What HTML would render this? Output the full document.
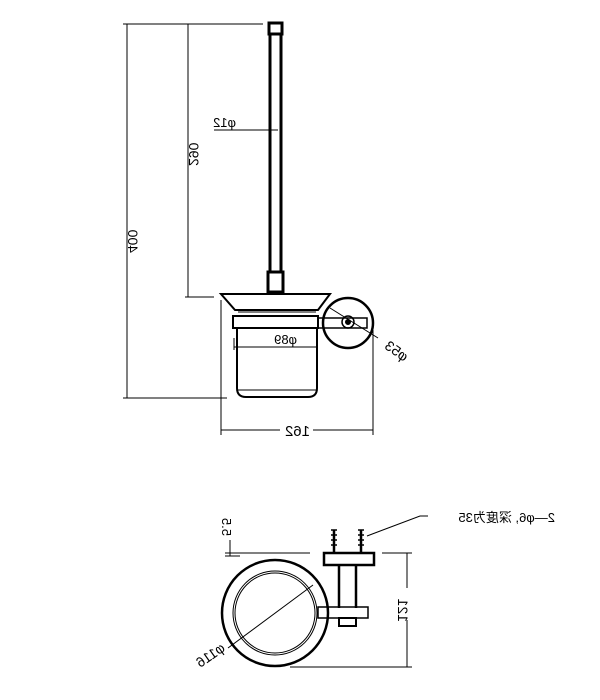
<!DOCTYPE html>
<html><head><meta charset="utf-8"><style>body{margin:0;background:#fff}svg{display:block}</style></head><body>
<svg width="600" height="700" viewBox="0 0 600 700" xmlns="http://www.w3.org/2000/svg" font-family="Liberation Sans, Noto Sans CJK SC, sans-serif" font-size="13" fill="none" stroke="#000">
<!-- handle -->
<rect x="269" y="23" width="13" height="11" stroke-width="3"/>
<rect x="270" y="34" width="11" height="238" stroke-width="3"/>
<rect x="268" y="272" width="15" height="20" stroke-width="3"/>
<!-- dims top -->
<g stroke-width="1">
<line x1="123" y1="24" x2="263" y2="24"/>
<line x1="127" y1="24" x2="127" y2="398"/>
<line x1="188" y1="24" x2="188" y2="297"/>
<line x1="214" y1="130" x2="278" y2="130"/>
<line x1="185" y1="297" x2="214" y2="297"/>
<line x1="123" y1="398" x2="227" y2="398"/>
<line x1="221" y1="300" x2="221" y2="435"/>
<line x1="373" y1="330" x2="373" y2="435"/>
<line x1="221" y1="430" x2="280" y2="430"/>
<line x1="313" y1="430" x2="373" y2="430"/>
<line x1="234" y1="338" x2="234" y2="350"/>
<line x1="317" y1="338" x2="317" y2="350"/>
<line x1="234" y1="347" x2="317" y2="347"/>
<line x1="330" y1="308" x2="378" y2="338"/>
</g>
<!-- tray & cup -->
<path d="M221 294 L330 294 L318 310 L235 310 Z" stroke-width="2"/>
<line x1="238" y1="312" x2="316" y2="312" stroke-width="1"/>
<rect x="233" y="316" width="85" height="12" stroke-width="2"/>
<path d="M237 328 L237 388 Q237 397 246 397 L308 397 Q317 397 317 388 L317 328" stroke-width="2"/>
<line x1="238" y1="390" x2="316" y2="390" stroke-width="1"/>
<circle cx="348" cy="323" r="25" stroke-width="2.5"/>
<rect x="318" y="318" width="49" height="10" stroke-width="1.5"/>
<circle cx="348" cy="322" r="6" stroke-width="1.5"/>
<circle cx="348" cy="322" r="2.5" fill="#000"/>
<!-- bottom view -->
<circle cx="275" cy="613" r="53" stroke-width="2.5"/>
<circle cx="275" cy="613" r="42" stroke-width="1"/>
<circle cx="275" cy="613" r="40" stroke-width="1"/>
<rect x="324" y="553" width="50" height="12" stroke-width="2.5"/>
<line x1="339" y1="565" x2="339" y2="608" stroke-width="2.5"/>
<line x1="356" y1="565" x2="356" y2="608" stroke-width="2.5"/>
<rect x="318" y="607" width="50" height="11" stroke-width="1.5"/>
<rect x="339" y="618" width="17" height="8" stroke-width="2"/>
<g stroke-width="2.5"><line x1="334" y1="530" x2="334" y2="553"/><line x1="361" y1="530" x2="361" y2="553"/></g>
<g stroke-width="1.5"><path d="M331 530 h6 M331 535 h6 M331 540 h6 M331 545 h6 M358 530 h6 M358 535 h6 M358 540 h6 M358 545 h6"/></g>
<g stroke-width="1">
<polyline points="367,536 420,516 428,516"/>
<line x1="382" y1="553" x2="412" y2="553"/>
<line x1="290" y1="667" x2="412" y2="667"/>
<line x1="407" y1="553" x2="407" y2="588"/>
<line x1="407" y1="620" x2="407" y2="667"/>
<line x1="225" y1="553" x2="310" y2="553"/>
<line x1="225" y1="556" x2="240" y2="556"/>
<line x1="230" y1="540" x2="230" y2="556"/>
<line x1="313" y1="585" x2="228" y2="648"/>
</g>
<!-- mirrored text -->
<g fill="#000" stroke="none">
<text transform="translate(236,127) scale(-1,1)">φ12</text>
<text transform="translate(189,166) rotate(-90) scale(1,-1)" font-size="14">290</text>
<text transform="translate(128,253) rotate(-90) scale(1,-1)" font-size="14">400</text>
<text transform="translate(297,344) scale(-1,1)">φ89</text>
<text transform="translate(310,436) scale(-1,1)" font-size="15">162</text>
<text transform="translate(404,362) rotate(35) scale(-1,1)" font-size="14">φ53</text>
<text transform="translate(555,522) scale(-1,1)" font-size="13">2—φ6, 深度为35</text>
<text transform="translate(398,622) rotate(-90) scale(1,-1)" font-size="14">121</text>
<text transform="translate(222,536) rotate(-90) scale(1,-1)" font-size="13">5.5</text>
<text transform="translate(226,650) rotate(-35) scale(-1,1)" font-size="14">φ116</text>
</g>
</svg>
</body></html>
